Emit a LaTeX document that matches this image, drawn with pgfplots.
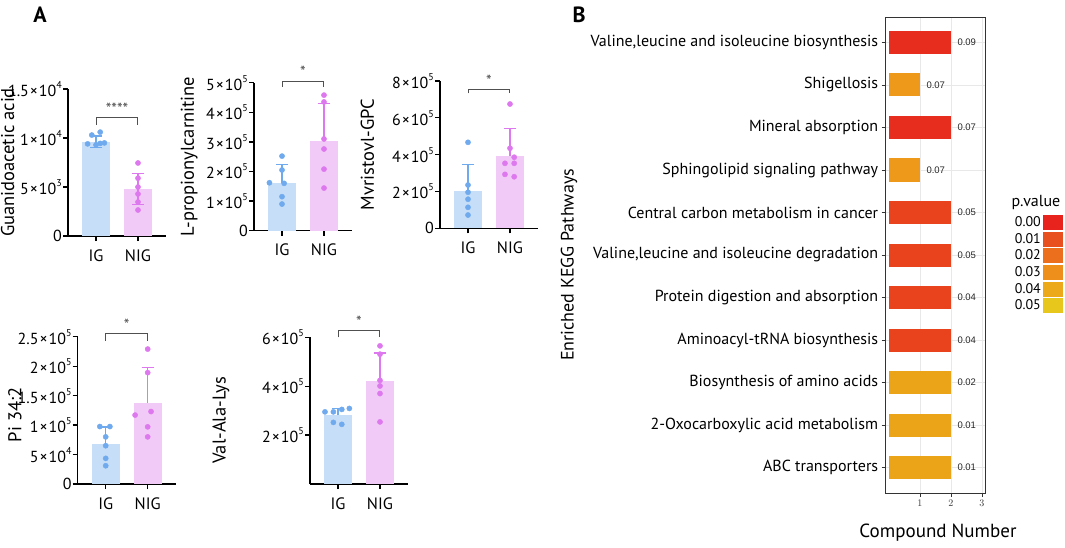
\documentclass[border=0pt]{standalone}
\usepackage{pgfplots}
\pgfplotsset{compat=1.18}
\usepackage{fontspec}
\setmainfont{PT Sans}
\newfontfamily\helv{Liberation Sans}
\definecolor{igbar}{RGB}{198,222,247}
\definecolor{igpt}{RGB}{112,170,238}
\definecolor{nigbar}{RGB}{241,202,247}
\definecolor{nigpt}{RGB}{222,120,238}
\definecolor{brk}{RGB}{80,80,80}
\definecolor{cred}{RGB}{230,45,30}
\definecolor{corange}{RGB}{238,153,26}
\definecolor{credor}{RGB}{232,67,28}
\definecolor{cyelor}{RGB}{235,164,24}
\definecolor{l0}{RGB}{232,35,30}
\definecolor{l1}{RGB}{233,80,31}
\definecolor{l2}{RGB}{236,111,30}
\definecolor{l3}{RGB}{238,142,27}
\definecolor{l4}{RGB}{236,169,26}
\definecolor{l5}{RGB}{231,199,27}
\definecolor{gridc}{RGB}{232,232,232}
\newcommand\sups[1]{\raisebox{0.5em}{\fontsize{10}{10}\selectfont #1}}
\newcommand\tm{\kern0.06em×\kern0.06em}
\tikzset{sigstar/.style={brk, anchor=base, font=\fontsize{16}{16}\selectfont}}
\pgfplotsset{
  panelA/.style={
    scale only axis, width=98pt,
    xmin=-0.667, xmax=1.667, ymin=0,
    axis lines=left, axis line style={-, line width=1.3pt, black},
    xtick={0,1}, xticklabels={IG,NIG},
    tick align=outside, major tick length=5pt,
    tick style={line width=1.3pt, black},
    scaled y ticks=false,
    xticklabel style={font=\fontsize{16.5}{16.5}\selectfont, yshift=-5pt},
    yticklabel style={font=\fontsize{16}{16}\selectfont, inner sep=1pt},
    ylabel style={font=\fontsize{18.5}{18.5}\selectfont, anchor=center},
    clip=false,
  },
  igb/.style={ybar, bar width=28pt, bar shift=0pt, fill=igbar, draw=none, forget plot},
  nigb/.style={ybar, bar width=28pt, bar shift=0pt, fill=nigbar, draw=none, forget plot},
  eb/.style 2 args={draw=none, mark=none, forget plot,
    error bars/.cd, y dir=#1, y explicit,
    error bar style={line width=1.2pt, draw=#2},
    error mark options={rotate=90, mark size=6pt, line width=1.2pt, draw=#2}},
  pts/.style={only marks, mark=*, mark size=2.6pt, color=#1, forget plot},
  brkt/.style={brk, line width=1pt, mark=none, forget plot},
  kb/.style={xbar, bar width=23pt, bar shift=0pt, draw=none, forget plot, fill=#1,
    nodes near coords, point meta=explicit symbolic,
    every node near coord/.append style={font=\helv\fontsize{9.5}{9.5}\selectfont, black!85, anchor=west, xshift=3pt}},
}
\begin{document}
\begin{tikzpicture}[x=1pt,y=1pt]
\useasboundingbox (0,0) rectangle (1065,547);
\node[font=\bfseries\fontsize{22}{22}\selectfont] at (40,532) {A};
\node[font=\bfseries\fontsize{22}{22}\selectfont] at (579,532) {B};

% ---- Plot 1
\begin{axis}[panelA, at={(68pt,311pt)}, anchor=south west, height=147pt, ymax=15000,
  ytick={0,5000,10000,15000},
  yticklabels={0,5\tm10\sups{3},1\tm10\sups{4},1.5\tm10\sups{4}},
  ylabel={Guanidoacetic acid}, ylabel style={at={(axis description cs:-0.615,0.5)}}]
\addplot[igb] coordinates {(0,9600)};
\addplot[nigb] coordinates {(1,4800)};
\addplot[eb={both}{igpt}] coordinates {(0,9600) +- (0,600)};
\addplot[eb={both}{nigpt}] coordinates {(1,4800) +- (0,1580)};
\addplot[pts=igpt] coordinates {(-0.1,10300) (0.1,10600) (0.2,9500) (-0.2,9400) (0.0,9300) (0.1,9450)};
\addplot[pts=nigpt] coordinates {(1,7450) (1,5900) (1,5000) (1,4290) (1,3470) (1,2650)};
\addplot[brkt] coordinates {(0,11327) (0,12041) (1,12041) (1,11327)};
\node[sigstar] at (axis cs:0.5,12400) {****};
\end{axis}

% ---- Plot 2
\begin{axis}[panelA, at={(254pt,316.3pt)}, anchor=south west, height=148pt, ymax=500000,
  ytick={0,100000,200000,300000,400000,500000},
  yticklabels={0,1\tm10\sups{5},2\tm10\sups{5},3\tm10\sups{5},4\tm10\sups{5},5\tm10\sups{5}},
  ylabel={L-propionylcarnitine}, ylabel style={at={(axis description cs:-0.66,0.5)}}]
\addplot[igb] coordinates {(0,162000)};
\addplot[nigb] coordinates {(1,304000)};
\addplot[eb={plus}{igpt}] coordinates {(0,162000) +- (0,61000)};
\addplot[eb={plus}{nigpt}] coordinates {(1,304000) +- (0,126000)};
\addplot[pts=igpt] coordinates {(0,252000) (0,205000) (-0.3,162000) (0.05,160000) (0,115000) (0,90000)};
\addplot[pts=nigpt] coordinates {(1,458000) (1,435000) (1,310000) (1,276000) (1,208000) (1,144000)};
\addplot[brkt] coordinates {(0,486500) (0,505700) (1,505700) (1,486500)};
\node[sigstar] at (axis cs:0.5,516000) {*};
\end{axis}

% ---- Plot 3
\begin{axis}[panelA, at={(440pt,318.7pt)}, anchor=south west, height=147.3pt, ymax=800000,
  ytick={0,200000,400000,600000,800000},
  yticklabels={0,2\tm10\sups{5},4\tm10\sups{5},6\tm10\sups{5},8\tm10\sups{5}},
  ylabel={Mvristovl-GPC}, ylabel style={at={(axis description cs:-0.74,0.5)}}]
\addplot[igb] coordinates {(0,203000)};
\addplot[nigb] coordinates {(1,393000)};
\addplot[eb={plus}{igpt}] coordinates {(0,203000) +- (0,145000)};
\addplot[eb={plus}{nigpt}] coordinates {(1,393000) +- (0,150000)};
\addplot[pts=igpt] coordinates {(0,467000) (0,235000) (0,196000) (0,158000) (0,114000) (0,72000)};
\addplot[pts=nigpt] coordinates {(1,675000) (1,435000) (1.1,386000) (0.88,353000) (1.1,353000) (0.88,293000) (1.1,280000)};
\addplot[brkt] coordinates {(0,733000) (0,754900) (1,754900) (1,733000)};
\node[sigstar] at (axis cs:0.5,768000) {*};
\end{axis}

% ---- Plot 4
\begin{axis}[panelA, at={(77.7pt,63pt)}, anchor=south west, height=147.3pt, ymax=250000,
  ytick={0,50000,100000,150000,200000,250000},
  yticklabels={0,5\tm10\sups{4},1\tm10\sups{5},1.5\tm10\sups{5},2\tm10\sups{5},2.5\tm10\sups{5}},
  ylabel={Pi 34:2}, ylabel style={at={(axis description cs:-0.64,0.47)}}]
\addplot[igb] coordinates {(0,67800)};
\addplot[nigb] coordinates {(1,138000)};
\addplot[eb={plus}{igpt}] coordinates {(0,67800) +- (0,29000)};
\addplot[eb={plus}{nigpt}] coordinates {(1,138000) +- (0,60000)};
\addplot[pts=igpt] coordinates {(-0.14,97500) (0.1,97500) (0,80000) (0,65000) (0,43500) (0,31000)};
\addplot[pts=nigpt] coordinates {(1,229000) (1,189000) (0.7,117000) (1.08,123000) (1,97000) (1,80000)};
\addplot[brkt] coordinates {(0,243200) (0,255800) (1,255800) (1,243200)};
\node[sigstar] at (axis cs:0.5,261000) {*};
\end{axis}

% ---- Plot 5
\begin{axis}[panelA, at={(310pt,63pt)}, anchor=south west, height=146.7pt, ymax=600000,
  ytick={200000,400000,600000},
  yticklabels={2\tm10\sups{5},4\tm10\sups{5},6\tm10\sups{5}},
  ylabel={Val-Ala-Lys}, ylabel style={at={(axis description cs:-0.91,0.435)}}]
\addplot[igb] coordinates {(0,282000)};
\addplot[nigb] coordinates {(1,422000)};
\addplot[eb={plus}{igpt}] coordinates {(0,282000) +- (0,27000)};
\addplot[eb={plus}{nigpt}] coordinates {(1,422000) +- (0,114000)};
\addplot[pts=igpt] coordinates {(-0.31,295000) (-0.11,295000) (0.09,305000) (0.27,309000) (-0.11,252000) (0.09,244000)};
\addplot[pts=nigpt] coordinates {(1,565000) (1,531000) (1,424000) (1,401000) (1,370000) (1,254000)};
\addplot[brkt] coordinates {(0,600000) (0,625800) (1,625800) (1,600000)};
\node[sigstar] at (axis cs:0.5,640000) {*};
\end{axis}

% ---- Panel B
\begin{axis}[at={(885.7pt,54pt)}, anchor=south west, scale only axis, width=100pt, height=476pt,
  xmin=-0.106, xmax=3.12, ymin=0.4, ymax=11.6,
  xtick={1,2,3}, ytick={1,...,11},
  yticklabels={ABC transporters, 2-Oxocarboxylic acid metabolism, Biosynthesis of amino acids,
    Aminoacyl-tRNA biosynthesis, Protein digestion and absorption,
    {Valine,leucine and isoleucine degradation}, Central carbon metabolism in cancer,
    Sphingolipid signaling pathway, Mineral absorption, Shigellosis,
    {Valine,leucine and isoleucine biosynthesis}},
  xtick pos=bottom, ytick pos=left, tick align=outside, major tick length=4pt,
  tick style={line width=0.8pt, black!80},
  axis line style={line width=0.9pt, black!80},
  grid=major, grid style={gridc, line width=0.8pt},
  xticklabel style={font=\helv\fontsize{10}{10}\selectfont, black!80},
  yticklabel style={font=\fontsize{16}{16}\selectfont},
  xlabel={Compound Number}, ylabel={Enriched KEGG Pathways},
  xlabel style={font=\fontsize{19}{19}\selectfont, at={(axis description cs:0.523,-0.084)}, anchor=center},
  ylabel style={font=\fontsize{18}{18}\selectfont, at={(axis description cs:-3.167,0.479)}, anchor=center},
  legend plot pos=right,
  legend cell align=left,
  legend image code/.code={\fill[#1, draw=none] (0pt,-7.5pt) rectangle (20pt,7.5pt);},
  legend style={at={(axis description cs:1.27,0.481)}, anchor=west, draw=none, fill=none,
    font=\fontsize{14}{14}\selectfont, row sep=1.2pt, column sep=0pt, inner sep=0pt},
  clip=false,
]
\addplot[kb=cyelor] coordinates {(2,1) [0.01]};
\addplot[kb=cyelor] coordinates {(2,2) [0.01]};
\addplot[kb=cyelor] coordinates {(2,3) [0.02]};
\addplot[kb=credor] coordinates {(2,4) [0.04]};
\addplot[kb=credor] coordinates {(2,5) [0.04]};
\addplot[kb=credor] coordinates {(2,6) [0.05]};
\addplot[kb=credor] coordinates {(2,7) [0.05]};
\addplot[kb=corange] coordinates {(1,8) [0.07]};
\addplot[kb=cred] coordinates {(2,9) [0.07]};
\addplot[kb=corange] coordinates {(1,10) [0.07]};
\addplot[kb=cred] coordinates {(2,11) [0.09]};
\addlegendimage{fill=l0}\addlegendentry{0.00}
\addlegendimage{fill=l1}\addlegendentry{0.01}
\addlegendimage{fill=l2}\addlegendentry{0.02}
\addlegendimage{fill=l3}\addlegendentry{0.03}
\addlegendimage{fill=l4}\addlegendentry{0.04}
\addlegendimage{fill=l5}\addlegendentry{0.05}
\node[font=\fontsize{16}{16}\selectfont, anchor=base west] at (axis description cs:1.225,0.602) {p.value};
\end{axis}
\end{tikzpicture}
\end{document}
